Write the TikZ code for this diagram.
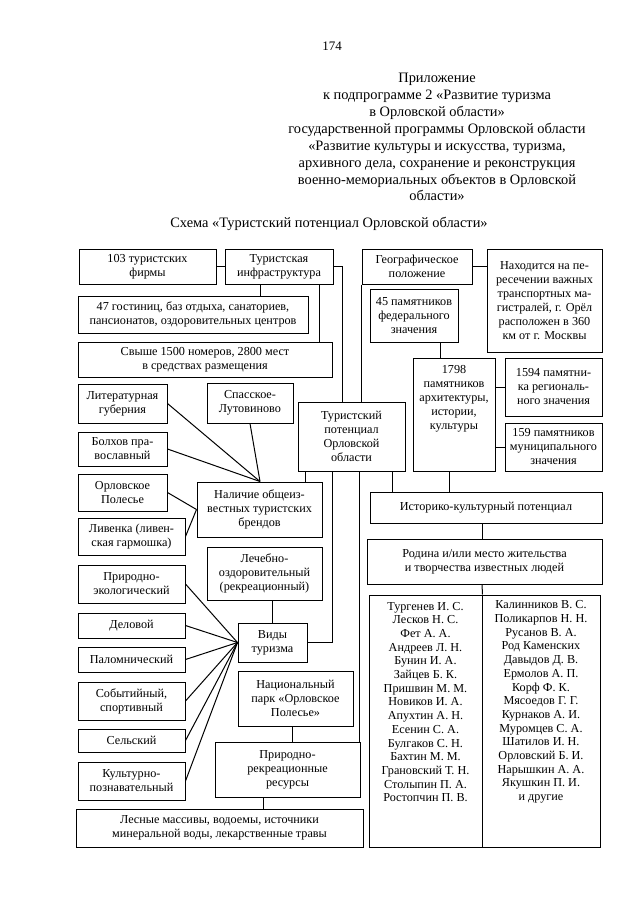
\documentclass[tikz,border=0pt]{standalone}
\usepackage{fontspec}
\setmainfont{Liberation Serif}
\newcommand\mkbox[6]{\node[box, minimum width={(#4)-(#2)}, minimum height={(#5)-(#3)}] (#1) at ({((#2)+(#4))/2},{((#3)+(#5))/2}) {#6};}
\tikzset{
  box/.style={draw, line width=1pt, inner sep=0pt, align=center, font=\fontsize{12.2}{14}\selectfont},
  txt/.style={inner sep=0pt, align=center, font=\fontsize{12.2}{14}\selectfont},
  lst/.style={inner sep=0pt, align=center, font=\fontsize{12.2}{13.7}\selectfont},
  hd/.style={inner sep=0pt, anchor=base, font=\fontsize{14.4}{17}\selectfont},
  ln/.style={line width=1pt}
}
\begin{document}
\begin{tikzpicture}[x=1pt,y=-1pt]
\useasboundingbox[fill=white] (0,0) rectangle (640,905);
% header
\node[hd, font=\fontsize{13}{15}\selectfont] (pg) at (332,50) {174};
\node[hd] (h1) at (437,82) {Приложение};
\node[hd] (h2) at (437,99) {к подпрограмме 2 «Развитие туризма};
\node[hd] (h3) at (437,116) {в Орловской области»};
\node[hd] (h4) at (437,133) {государственной программы Орловской области};
\node[hd] (h5) at (437,150) {«Развитие культуры и искусства, туризма,};
\node[hd] (h6) at (437,167) {архивного дела, сохранение и реконструкция};
\node[hd] (h7) at (437,184) {военно-мемориальных объектов в Орловской};
\node[hd] (h8) at (437,200) {области»};
\node[hd] (ttl) at (329,227) {Схема «Туристский потенциал Орловской области»};
% boxes
\mkbox{firms}{79}{249}{216}{284}{103 туристских\\фирмы}
\mkbox{infra}{225}{249}{333}{284}{Туристская\\инфраструктура}
\mkbox{hotels}{78}{296}{308}{333}{47 гостиниц, баз отдыха, санаториев,\\пансионатов, оздоровительных центров}
\mkbox{rooms}{78}{342}{332}{377}{Свыше 1500 номеров, 2800 мест\\в средствах размещения}
\mkbox{lit}{78}{384}{167}{423}{Литературная\\губерния}
\mkbox{spas}{207}{383}{293}{423}{Спасское-\\Лутовиново}
\mkbox{pot}{298}{402}{405}{471}{Туристский\\потенциал\\Орловской\\области}
\mkbox{bol}{78}{432}{167}{466}{Болхов пра-\\вославный}
\mkbox{orp}{78}{474}{167}{511}{Орловское\\Полесье}
\mkbox{nal}{197}{482}{322}{537}{Наличие общеиз-\\вестных туристских\\брендов}
\mkbox{liv}{78}{518}{185}{555}{Ливенка (ливен-\\ская гармошка)}
\mkbox{lech}{207}{547}{322}{600}{Лечебно-\\оздоровительный\\(рекреационный)}
\mkbox{pre}{78}{565}{185}{603}{Природно-\\экологический}
\mkbox{del}{78}{613}{185}{638}{Деловой}
\mkbox{pal}{78}{647}{185}{672}{Паломнический}
\mkbox{vidy}{238}{623}{307}{662}{Виды\\туризма}
\mkbox{sob}{78}{682}{185}{720}{Событийный,\\спортивный}
\mkbox{nac}{238}{671}{353}{726}{Национальный\\парк «Орловское\\Полесье»}
\mkbox{sel}{78}{729}{185}{752}{Сельский}
\mkbox{prir}{215}{742}{360}{797}{Природно-\\рекреационные\\ресурсы}
\mkbox{kul}{78}{762}{185}{800}{Культурно-\\познавательный}
\mkbox{les}{76}{809}{363}{847}{Лесные массивы, водоемы, источники\\минеральной воды, лекарственные травы}
\mkbox{geo}{362}{249}{472}{284}{Географическое\\положение}
\mkbox{nah}{487}{249}{602}{352}{Находится на пе-\\ресечении важных\\транспортных ма-\\гистралей, г. Орёл\\расположен в 360\\км от г. Москвы}
\mkbox{fed}{370}{289}{458}{342}{45 памятников\\федерального\\значения}
\mkbox{arch}{413}{358}{495}{471}{}
\node[txt] (archt) at (454,399) {1798\\памятников\\архитектуры,\\истории,\\культуры};
\mkbox{reg}{505}{358}{602}{416}{1594 памятни-\\ка региональ-\\ного значения}
\mkbox{mun}{505}{423}{602}{471}{159 памятников\\муниципального\\значения}
\mkbox{ist}{370}{492}{602}{523}{Историко-культурный потенциал}
\mkbox{rod}{367}{539}{602}{584}{Родина и/или место жительства\\и творчества известных людей}
\mkbox{listL}{369}{595}{482}{847}{}
\mkbox{listR}{482}{595}{600}{847}{}
\node[lst] (listLt) at (425.5,702) {Тургенев И. С.\\Лесков Н. С.\\Фет А. А.\\Андреев Л. Н.\\Бунин И. А.\\Зайцев Б. К.\\Пришвин М. М.\\Новиков И. А.\\Апухтин А. Н.\\Есенин С. А.\\Булгаков С. Н.\\Бахтин М. М.\\Грановский Т. Н.\\Столыпин П. А.\\Ростопчин П. В.};
\node[lst] (listRt) at (541,702) {Калинников В. С.\\Поликарпов Н. Н.\\Русанов В. А.\\Род Каменских\\Давыдов Д. В.\\Ермолов А. П.\\Корф Ф. К.\\Мясоедов Г. Г.\\Курнаков А. И.\\Муромцев С. А.\\Шатилов И. Н.\\Орловский Б. И.\\Нарышкин А. А.\\Якушкин П. И.\\и другие};
% connectors
\draw[ln] (firms.east) -- (infra.west);
\draw[ln] (260,0 |- infra.south) -- (260,0 |- hotels.north);
\draw[ln] (319,0 |- infra.south) -- (319,0 |- rooms.north);
\draw[ln] (infra.east) -- (342,0 |- infra.east) -- (342,0 |- pot.north);
\draw[ln] (geo.east) -- (nah.west |- geo.east);
\draw[ln] (geo.south west) -- (geo.south west |- pot.north);
\draw[ln] (440,0 |- fed.south) -- (440,0 |- arch.north);
\draw[ln] (arch.east |- reg.west) -- (reg.west);
\draw[ln] (arch.east |- mun.west) -- (mun.west);
\draw[ln] (305,0 |- pot.south) -- (305,0 |- nal.north);
\draw[ln] (332,0 |- pot.south) -- (332,0 |- vidy.east) -- (vidy.east);
\draw[ln] (359,0 |- pot.south) -- (359,0 |- prir.north);
\draw[ln] (392,0 |- pot.south) -- (392,0 |- ist.north);
\draw[ln] (449,0 |- arch.south) -- (449,0 |- ist.north);
\draw[ln] (482,0 |- ist.south) -- (482,0 |- rod.north);
\draw[ln] (482,0 |- rod.south) -- (listL.north east);
\draw[ln] (272,0 |- lech.south) -- (272,0 |- vidy.north);
\draw[ln] (292,0 |- nac.south) -- (292,0 |- prir.north);
\draw[ln] (263,0 |- prir.south) -- (263,0 |- les.north);
\draw[ln] (lit.east) -- (260,0 |- nal.north);
\draw[ln] (bol.east) -- (260,0 |- nal.north);
\draw[ln] (spas.south) -- (260,0 |- nal.north);
\draw[ln] (orp.east) -- (nal.west);
\draw[ln] (liv.east) -- (nal.west);
\foreach \n in {pre,del,pal,sob,sel,kul} \draw[ln] (\n.east) -- (vidy.west);
\end{tikzpicture}
\end{document}
